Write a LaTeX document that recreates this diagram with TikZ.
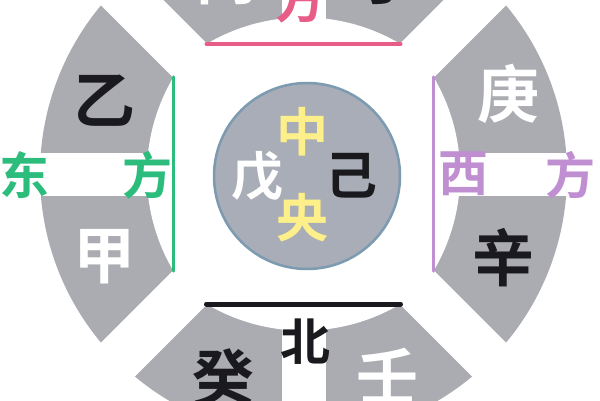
\documentclass[tikz,border=0pt]{standalone}
\usepackage{fontspec}
\newfontfamily\cjk{Noto Sans CJK SC}[BoldFont={Noto Sans CJK SC Bold}]
\usetikzlibrary{calc}
\definecolor{ringgray}{HTML}{ABACB2}
\definecolor{midgray}{HTML}{A8ADB7}
\definecolor{rimblue}{HTML}{7C9AB0}
\definecolor{eastgreen}{HTML}{2CBC7C}
\definecolor{westpurple}{HTML}{BF8FD2}
\definecolor{southpink}{HTML}{E85C88}
\definecolor{inkblack}{HTML}{1A1A1E}
\definecolor{midyellow}{HTML}{FDF08A}
\begin{document}
\begin{tikzpicture}[x=1pt,y=1pt,
  stem/.style={font=\cjk\bfseries\fontsize{62}{62}\selectfont, inner sep=0pt},
  dirlab/.style={font=\cjk\bfseries\fontsize{50}{50}\selectfont, inner sep=0pt},
  midlab/.style={font=\cjk\bfseries\fontsize{52}{52}\selectfont, inner sep=0pt},
  chord/.style={line width=4pt, line cap=round}]
\useasboundingbox (0,0) rectangle (600,400);
\clip (0,0) rectangle (600,400);
\fill[white] (0,0) rectangle (600,400);
\coordinate (C) at (303.5,226);
\fill[ringgray] (C) circle[radius=263.5];
\begin{scope}[shift={(C)}]
 \fill[white] (-130,97) coordinate (L1)
   arc[start angle=149.3,end angle=210.7,radius=190] coordinate (L2)
   -- (-97,-130) coordinate (B1)
   arc[start angle=239.3,end angle=300.7,radius=190] coordinate (B2)
   -- (130,-97) coordinate (R2)
   arc[start angle=-30.7,end angle=30.7,radius=190] coordinate (R1)
   -- (97,130) coordinate (T2)
   arc[start angle=59.3,end angle=120.7,radius=190] coordinate (T1)
   -- cycle;
 \fill[white,rotate=45] (-400,-24) rectangle (400,24);
 \fill[white,rotate=-45] (-400,-24) rectangle (400,24);
 \fill[white] (-400,-21.5) rectangle (400,21.5);
 \fill[white] (-22,-400) rectangle (22,400);
\end{scope}
% chords
\draw[chord, eastgreen, line width=3.5pt] (L1) -- (L2);
\draw[chord, southpink] (T1) -- (T2);
\draw[chord, westpurple, line width=3.5pt] (R1) -- (R2);
\draw[chord, inkblack, line width=5pt] (B1) -- (B2);
% centre
\node[circle, draw=rimblue, line width=2.5pt, fill=midgray, minimum size=186pt, inner sep=0pt] (mid) at (307,224) {};
\node[midlab, text=midyellow] (zhong) at (302,268.5) {中};
\node[midlab, text=midyellow] (yang) at (302,182.5) {央};
\node[midlab, text=white] (wu) at (257.5,223.5) {戊};
\node[midlab, text=inkblack] (ji) at (351.5,224) {己};
% east
\node[stem, text=inkblack] (yi) at (104,299) {乙};
\node[stem, text=white] (jia) at (104,143.5) {甲};
\node[dirlab, text=eastgreen] (dong) at (24,225) {东};
\node[dirlab, text=eastgreen] (fangE) at (147,225) {方};
% west
\node[stem, text=white] (geng) at (508,306.5) {庚};
\node[stem, text=inkblack] (xin) at (503.5,142) {辛};
\node[dirlab, text=westpurple] (xi) at (463,226) {西};
\node[dirlab, text=westpurple] (fangW) at (570.5,225) {方};
% north (bottom)
\node[stem, text=inkblack, anchor=north] (gui) at (223.5,52) {癸};
\node[stem, text=white, anchor=north] (ren) at (387,52) {壬};
\node[dirlab, text=inkblack] (bei) at (305,58.5) {北};
% south (top)
\node[stem, text=white, anchor=south] (bing) at (226,395) {丙};
\node[stem, text=inkblack, anchor=south] (ding) at (386,395) {丁};
\node[dirlab, text=southpink, anchor=south] (fangS) at (300.5,377) {方};
\end{tikzpicture}
\end{document}
